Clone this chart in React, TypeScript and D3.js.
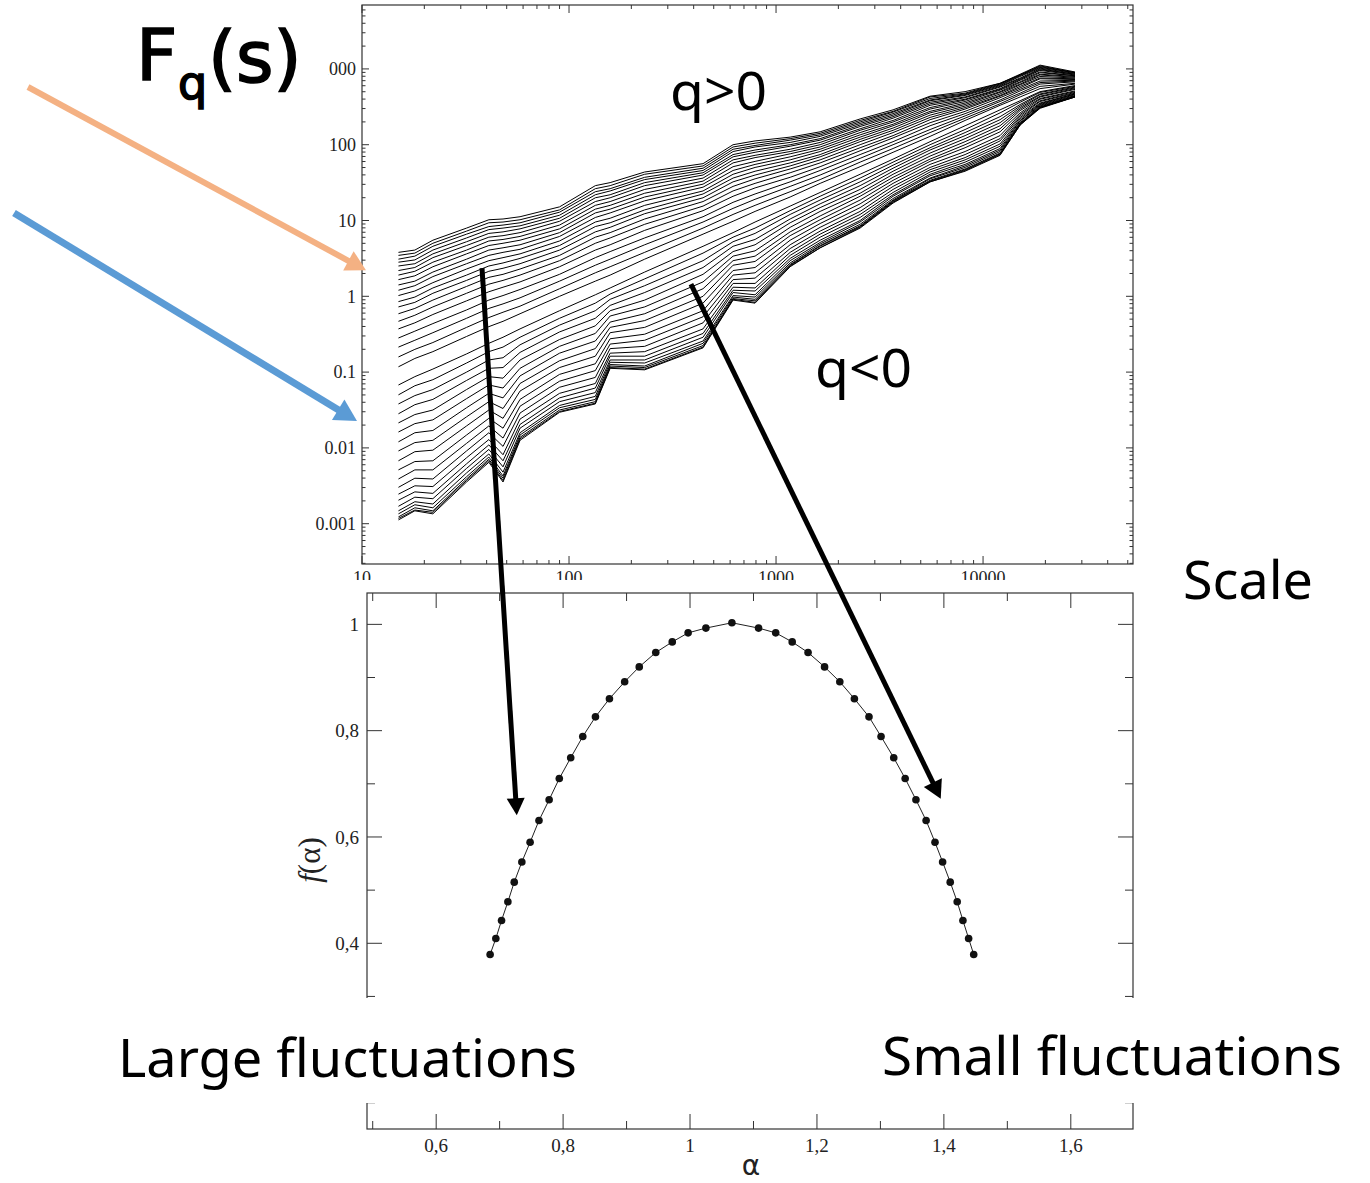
import React from 'react';
import * as d3 from 'd3';

// Window sizes s of the fluctuation function
const SCALES = [15, 18, 22, 32, 41, 48, 58, 90, 134, 158, 232, 444, 620, 792, 1170, 1633, 2547, 3675, 5546, 8187, 12080, 15100, 18850, 27800];

// log10 Fq(s) for q > 0: one row per scale, columns from the largest q down to the smallest
const LOG_FQ_POS_Q = [
  [0.58, 0.54, 0.49, 0.45, 0.40, 0.34, 0.28, 0.22, 0.15, 0.08, 0.01, -0.07, -0.14, -0.23, -0.33, -0.43, -0.55, -0.67, -0.80, -0.93],
  [0.61, 0.57, 0.53, 0.48, 0.43, 0.38, 0.33, 0.27, 0.20, 0.14, 0.07, -0.01, -0.08, -0.16, -0.25, -0.35, -0.46, -0.58, -0.70, -0.82],
  [0.74, 0.70, 0.66, 0.61, 0.56, 0.51, 0.45, 0.39, 0.32, 0.26, 0.18, 0.11, 0.04, -0.05, -0.14, -0.24, -0.36, -0.48, -0.61, -0.73],
  [0.90, 0.86, 0.82, 0.77, 0.72, 0.67, 0.61, 0.56, 0.49, 0.43, 0.36, 0.28, 0.21, 0.13, 0.04, -0.06, -0.18, -0.29, -0.41, -0.53],
  [1.01, 0.97, 0.92, 0.88, 0.83, 0.78, 0.73, 0.67, 0.61, 0.54, 0.47, 0.40, 0.33, 0.25, 0.16, 0.06, -0.05, -0.16, -0.28, -0.40],
  [1.02, 0.98, 0.94, 0.90, 0.85, 0.80, 0.75, 0.70, 0.64, 0.58, 0.51, 0.44, 0.37, 0.29, 0.21, 0.12, 0.01, -0.10, -0.21, -0.33],
  [1.05, 1.01, 0.97, 0.93, 0.89, 0.84, 0.79, 0.74, 0.68, 0.62, 0.56, 0.50, 0.43, 0.36, 0.28, 0.19, 0.09, -0.02, -0.13, -0.23],
  [1.18, 1.14, 1.11, 1.07, 1.03, 0.99, 0.94, 0.89, 0.84, 0.79, 0.73, 0.67, 0.61, 0.54, 0.47, 0.39, 0.29, 0.20, 0.10, 0.00],
  [1.46, 1.42, 1.38, 1.34, 1.30, 1.25, 1.20, 1.15, 1.10, 1.04, 0.98, 0.92, 0.85, 0.78, 0.70, 0.61, 0.51, 0.41, 0.31, 0.20],
  [1.50, 1.46, 1.42, 1.39, 1.34, 1.30, 1.25, 1.20, 1.15, 1.10, 1.03, 0.97, 0.91, 0.84, 0.77, 0.68, 0.59, 0.49, 0.39, 0.28],
  [1.64, 1.61, 1.57, 1.54, 1.50, 1.46, 1.41, 1.36, 1.31, 1.26, 1.20, 1.14, 1.09, 1.02, 0.95, 0.87, 0.77, 0.68, 0.58, 0.49],
  [1.75, 1.72, 1.69, 1.66, 1.63, 1.60, 1.56, 1.52, 1.48, 1.44, 1.39, 1.35, 1.30, 1.25, 1.19, 1.13, 1.05, 0.98, 0.90, 0.82],
  [2.00, 1.97, 1.94, 1.91, 1.87, 1.84, 1.80, 1.76, 1.71, 1.66, 1.61, 1.56, 1.51, 1.45, 1.39, 1.32, 1.24, 1.16, 1.08, 0.99],
  [2.05, 2.02, 1.99, 1.97, 1.93, 1.90, 1.86, 1.83, 1.78, 1.74, 1.70, 1.65, 1.60, 1.55, 1.49, 1.43, 1.35, 1.28, 1.20, 1.12],
  [2.10, 2.08, 2.06, 2.03, 2.00, 1.98, 1.94, 1.91, 1.88, 1.84, 1.80, 1.76, 1.72, 1.68, 1.63, 1.57, 1.51, 1.45, 1.38, 1.31],
  [2.17, 2.15, 2.13, 2.11, 2.08, 2.06, 2.03, 2.00, 1.97, 1.94, 1.91, 1.87, 1.84, 1.80, 1.76, 1.71, 1.66, 1.60, 1.54, 1.49],
  [2.34, 2.32, 2.30, 2.28, 2.26, 2.24, 2.21, 2.19, 2.16, 2.13, 2.10, 2.07, 2.04, 2.00, 1.96, 1.92, 1.87, 1.82, 1.77, 1.71],
  [2.46, 2.44, 2.43, 2.41, 2.39, 2.37, 2.35, 2.32, 2.30, 2.27, 2.25, 2.22, 2.19, 2.16, 2.12, 2.09, 2.04, 2.00, 1.95, 1.90],
  [2.64, 2.63, 2.61, 2.59, 2.58, 2.56, 2.54, 2.52, 2.49, 2.47, 2.44, 2.42, 2.39, 2.36, 2.33, 2.29, 2.25, 2.20, 2.16, 2.11],
  [2.70, 2.68, 2.67, 2.66, 2.65, 2.63, 2.62, 2.60, 2.59, 2.57, 2.55, 2.53, 2.51, 2.49, 2.47, 2.44, 2.41, 2.38, 2.35, 2.32],
  [2.81, 2.81, 2.80, 2.79, 2.78, 2.77, 2.76, 2.74, 2.73, 2.72, 2.70, 2.69, 2.67, 2.65, 2.64, 2.62, 2.59, 2.57, 2.54, 2.52],
  [2.93, 2.92, 2.92, 2.91, 2.90, 2.88, 2.87, 2.86, 2.85, 2.83, 2.82, 2.80, 2.79, 2.77, 2.75, 2.73, 2.71, 2.68, 2.66, 2.63],
  [3.05, 3.04, 3.03, 3.02, 3.01, 3.00, 2.99, 2.98, 2.96, 2.95, 2.93, 2.92, 2.90, 2.88, 2.87, 2.84, 2.82, 2.80, 2.77, 2.74],
  [2.96, 2.95, 2.95, 2.95, 2.94, 2.93, 2.93, 2.92, 2.91, 2.91, 2.90, 2.89, 2.88, 2.87, 2.86, 2.85, 2.84, 2.83, 2.81, 2.80],
];

// log10 Fq(s) for q < 0: one row per scale, columns from the q closest to 0 down to the most negative q
const LOG_FQ_NEG_Q = [
  [-1.17, -1.30, -1.42, -1.55, -1.67, -1.79, -1.92, -2.04, -2.17, -2.29, -2.41, -2.52, -2.61, -2.69, -2.77, -2.83, -2.87, -2.91, -2.93, -2.95],
  [-1.06, -1.18, -1.31, -1.43, -1.56, -1.68, -1.80, -1.93, -2.05, -2.18, -2.29, -2.40, -2.50, -2.58, -2.65, -2.71, -2.75, -2.79, -2.82, -2.83],
  [-0.96, -1.10, -1.23, -1.36, -1.50, -1.63, -1.77, -1.90, -2.03, -2.17, -2.29, -2.41, -2.51, -2.60, -2.67, -2.74, -2.79, -2.83, -2.85, -2.87],
  [-0.76, -0.88, -1.00, -1.11, -1.23, -1.35, -1.47, -1.59, -1.71, -1.83, -1.94, -2.04, -2.13, -2.21, -2.27, -2.33, -2.38, -2.41, -2.43, -2.45],
  [-0.62, -0.73, -0.84, -0.95, -1.06, -1.17, -1.28, -1.39, -1.50, -1.61, -1.71, -1.80, -1.89, -1.96, -2.02, -2.08, -2.12, -2.15, -2.17, -2.19],
  [-0.54, -0.67, -0.81, -0.94, -1.08, -1.21, -1.34, -1.48, -1.61, -1.74, -1.87, -1.98, -2.09, -2.17, -2.25, -2.32, -2.37, -2.40, -2.43, -2.45],
  [-0.43, -0.54, -0.64, -0.74, -0.84, -0.95, -1.05, -1.15, -1.25, -1.36, -1.45, -1.54, -1.62, -1.69, -1.74, -1.80, -1.83, -1.86, -1.88, -1.90],
  [-0.19, -0.29, -0.38, -0.47, -0.57, -0.66, -0.75, -0.85, -0.94, -1.03, -1.12, -1.20, -1.28, -1.34, -1.39, -1.44, -1.47, -1.50, -1.52, -1.53],
  [0.02, -0.09, -0.19, -0.29, -0.39, -0.49, -0.59, -0.69, -0.79, -0.89, -0.98, -1.07, -1.15, -1.21, -1.27, -1.32, -1.36, -1.39, -1.41, -1.42],
  [0.11, 0.03, -0.04, -0.12, -0.19, -0.26, -0.34, -0.41, -0.48, -0.56, -0.63, -0.69, -0.75, -0.79, -0.84, -0.87, -0.90, -0.92, -0.94, -0.95],
  [0.32, 0.23, 0.14, 0.05, -0.05, -0.14, -0.23, -0.32, -0.41, -0.50, -0.58, -0.66, -0.73, -0.79, -0.84, -0.88, -0.92, -0.94, -0.96, -0.97],
  [0.66, 0.57, 0.47, 0.38, 0.29, 0.19, 0.10, 0.00, -0.09, -0.19, -0.27, -0.35, -0.43, -0.49, -0.54, -0.59, -0.62, -0.65, -0.67, -0.68],
  [0.84, 0.78, 0.72, 0.66, 0.59, 0.53, 0.47, 0.41, 0.34, 0.28, 0.22, 0.17, 0.12, 0.08, 0.05, 0.01, -0.01, -0.03, -0.04, -0.05],
  [0.98, 0.90, 0.83, 0.75, 0.68, 0.60, 0.53, 0.46, 0.38, 0.31, 0.24, 0.17, 0.11, 0.07, 0.02, -0.01, -0.04, -0.06, -0.08, -0.09],
  [1.19, 1.13, 1.08, 1.02, 0.97, 0.91, 0.85, 0.80, 0.74, 0.68, 0.63, 0.58, 0.54, 0.50, 0.47, 0.44, 0.42, 0.41, 0.40, 0.39],
  [1.37, 1.32, 1.27, 1.22, 1.17, 1.12, 1.06, 1.01, 0.96, 0.91, 0.86, 0.82, 0.78, 0.74, 0.71, 0.69, 0.67, 0.66, 0.64, 0.64],
  [1.61, 1.56, 1.51, 1.46, 1.41, 1.36, 1.32, 1.27, 1.22, 1.17, 1.12, 1.08, 1.04, 1.00, 0.98, 0.95, 0.93, 0.92, 0.91, 0.90],
  [1.81, 1.77, 1.73, 1.69, 1.65, 1.61, 1.57, 1.53, 1.49, 1.45, 1.41, 1.37, 1.34, 1.32, 1.29, 1.27, 1.26, 1.25, 1.24, 1.23],
  [2.04, 2.00, 1.96, 1.93, 1.89, 1.85, 1.81, 1.78, 1.74, 1.70, 1.67, 1.64, 1.61, 1.59, 1.56, 1.55, 1.53, 1.52, 1.51, 1.51],
  [2.25, 2.20, 2.16, 2.12, 2.08, 2.04, 2.00, 1.96, 1.91, 1.87, 1.83, 1.80, 1.77, 1.74, 1.72, 1.70, 1.68, 1.67, 1.66, 1.65],
  [2.46, 2.42, 2.37, 2.33, 2.29, 2.25, 2.21, 2.17, 2.12, 2.08, 2.05, 2.01, 1.98, 1.95, 1.93, 1.91, 1.89, 1.88, 1.87, 1.86],
  [2.58, 2.56, 2.53, 2.51, 2.49, 2.47, 2.45, 2.42, 2.40, 2.38, 2.36, 2.34, 2.32, 2.31, 2.29, 2.28, 2.27, 2.27, 2.26, 2.26],
  [2.70, 2.69, 2.67, 2.66, 2.64, 2.63, 2.61, 2.60, 2.58, 2.57, 2.55, 2.54, 2.53, 2.52, 2.51, 2.50, 2.49, 2.49, 2.49, 2.48],
  [2.78, 2.77, 2.76, 2.75, 2.74, 2.73, 2.71, 2.70, 2.69, 2.68, 2.67, 2.67, 2.66, 2.65, 2.64, 2.64, 2.64, 2.63, 2.63, 2.63],
];

// Multifractal spectrum f(alpha)
const ALPHA = [0.685, 0.694, 0.703, 0.713, 0.723, 0.735, 0.748, 0.762, 0.778, 0.794, 0.812, 0.831, 0.851, 0.873, 0.897, 0.920, 0.946, 0.972, 0.997, 1.025, 1.066, 1.108, 1.135, 1.161, 1.186, 1.212, 1.236, 1.259, 1.282, 1.301, 1.321, 1.339, 1.356, 1.372, 1.386, 1.398, 1.410, 1.421, 1.430, 1.439, 1.447];
const F_ALPHA = [0.379, 0.409, 0.443, 0.478, 0.515, 0.553, 0.590, 0.631, 0.670, 0.710, 0.749, 0.789, 0.826, 0.860, 0.892, 0.920, 0.947, 0.967, 0.984, 0.993, 1.003, 0.993, 0.984, 0.967, 0.947, 0.920, 0.892, 0.860, 0.826, 0.789, 0.749, 0.710, 0.670, 0.631, 0.590, 0.553, 0.515, 0.478, 0.443, 0.409, 0.379];

const TOP_Y_TICKS = [0.001, 0.01, 0.1, 1, 10, 100, 1000];
const TOP_Y_LABELS = ['0.001', '0.01', '0.1', '1', '10', '100', '1000'];
const TOP_X_TICKS = [10, 100, 1000, 10000];
const TOP_X_LABELS = ['10', '100', '1000', '10000'];
const BOT_X_TICKS = [0.6, 0.8, 1, 1.2, 1.4, 1.6];
const BOT_X_MINOR = [0.5, 0.7, 0.9, 1.1, 1.3, 1.5];
const BOT_X_LABELS = ['0,6', '0,8', '1', '1,2', '1,4', '1,6'];
const BOT_Y_TICKS = [0.4, 0.6, 0.8, 1];
const BOT_Y_MINOR = [0.1, 0.3, 0.5, 0.7, 0.9];
const BOT_Y_LABELS = ['0,4', '0,6', '0,8', '1'];

const W = 1370;
const H = 1183;
const TOP = { left: 362, right: 1133, top: 5, bottom: 564 };
const BOT = { left: 367, right: 1133, top: 593, bottom: 1129 };

const AXIS = '#333';
const SERIF = "'Liberation Serif', 'Times New Roman', serif";
const SANS = "'Noto Sans', 'Open Sans', sans-serif";

function Arrow({ x1, y1, x2, y2, color, width, head, half }) {
  const dx = x2 - x1;
  const dy = y2 - y1;
  const len = Math.hypot(dx, dy);
  const ux = dx / len;
  const uy = dy / len;
  const bx = x2 - ux * head;
  const by = y2 - uy * head;
  const pts = [
    [x2, y2],
    [bx - uy * half, by + ux * half],
    [bx + uy * half, by - ux * half],
  ];
  return (
    <g>
      <line x1={x1} y1={y1} x2={bx + ux} y2={by + uy} stroke={color} strokeWidth={width} />
      <polygon points={pts.map((p) => p.join(',')).join(' ')} fill={color} />
    </g>
  );
}

export default function App() {
  const xTop = d3.scaleLog().domain([10, 53000]).range([TOP.left, TOP.right]);
  const yTop = d3.scaleLog().domain([0.000294, 6970]).range([TOP.bottom, TOP.top]);
  const xBot = d3.scaleLinear().domain([0.491, 1.698]).range([BOT.left, BOT.right]);
  const yBot = d3.scaleLinear().domain([0.0506, 1.059]).range([BOT.bottom, BOT.top]);

  const columns = [...d3.transpose(LOG_FQ_POS_Q), ...d3.transpose(LOG_FQ_NEG_Q)];
  const curves = columns.map((col) => col.map((v, i) => [SCALES[i], Math.pow(10, v)]));
  const fqLine = d3
    .line()
    .x((d) => xTop(d[0]))
    .y((d) => yTop(d[1]));

  const spectrum = ALPHA.map((a, i) => [a, F_ALPHA[i]]);
  const specLine = d3
    .line()
    .x((d) => xBot(d[0]))
    .y((d) => yBot(d[1]));

  const xMax = xTop.domain()[1];
  const [yMin, yMax] = yTop.domain();
  const xMinor = [];
  [10, 100, 1000, 10000].forEach((d) => {
    for (let k = 2; k <= 9; k++) if (d * k < xMax) xMinor.push(d * k);
  });
  const yMinor = [];
  [0.0001, 0.001, 0.01, 0.1, 1, 10, 100, 1000].forEach((d) => {
    for (let k = 2; k <= 9; k++) {
      const v = d * k;
      if (v > yMin && v < yMax) yMinor.push(v);
    }
  });

  const tick = (key, x1, y1, x2, y2) => <line key={key} x1={x1} y1={y1} x2={x2} y2={y2} stroke={AXIS} strokeWidth={1} />;

  // annotation arrows tied to chart coordinates
  const a1 = { x1: xTop(38), y1: yTop(2.36), x2: xBot(0.727), y2: yBot(0.641) };
  const a2 = { x1: xTop(388), y1: yTop(1.45), x2: xBot(1.395), y2: yBot(0.672) };

  return (
    <svg width={W} height={H} style={{ position: 'absolute', left: 0, top: 0, background: '#fff' }}>
      <rect x={0} y={0} width={W} height={H} fill="#fff" />

      {/* ---- Fq(s) panel ---- */}
      <g>
        {curves.map((c, i) => (
          <path key={'c' + i} d={fqLine(c)} fill="none" stroke="#000" strokeWidth={1} />
        ))}
        <rect x={TOP.left} y={TOP.top} width={TOP.right - TOP.left} height={TOP.bottom - TOP.top} fill="none" stroke={AXIS} strokeWidth={1.2} />
        {TOP_X_TICKS.map((v, i) => (
          <g key={'tx' + i}>
            {tick('a', xTop(v), TOP.bottom, xTop(v), TOP.bottom - 8)}
            {tick('b', xTop(v), TOP.top, xTop(v), TOP.top + 8)}
            <text x={xTop(v)} y={584} textAnchor="middle" fontFamily={SERIF} fontSize={18} fill="#222">
              {TOP_X_LABELS[i]}
            </text>
          </g>
        ))}
        {xMinor.map((v, i) => (
          <g key={'txm' + i}>
            {tick('a', xTop(v), TOP.bottom, xTop(v), TOP.bottom - 4)}
            {tick('b', xTop(v), TOP.top, xTop(v), TOP.top + 4)}
          </g>
        ))}
        {TOP_Y_TICKS.map((v, i) => (
          <g key={'ty' + i}>
            {tick('a', TOP.left, yTop(v), TOP.left + 7, yTop(v))}
            {tick('b', TOP.right, yTop(v), TOP.right - 7, yTop(v))}
            <text x={356} y={yTop(v)} dy="0.35em" textAnchor="end" fontFamily={SERIF} fontSize={18} fill="#222">
              {TOP_Y_LABELS[i]}
            </text>
          </g>
        ))}
        {yMinor.map((v, i) => (
          <g key={'tym' + i}>
            {tick('a', TOP.left, yTop(v), TOP.left + 3.5, yTop(v))}
            {tick('b', TOP.right, yTop(v), TOP.right - 3.5, yTop(v))}
          </g>
        ))}
      </g>

      {/* ---- f(alpha) panel ---- */}
      <rect x={0} y={580} width={W} height={H - 580} fill="#fff" />
      <g>
        <rect x={BOT.left} y={BOT.top} width={BOT.right - BOT.left} height={BOT.bottom - BOT.top} fill="none" stroke={AXIS} strokeWidth={1.2} />
        {BOT_X_TICKS.map((v, i) => (
          <g key={'bx' + i}>
            {tick('a', xBot(v), BOT.bottom, xBot(v), BOT.bottom - 15)}
            {tick('b', xBot(v), BOT.top, xBot(v), BOT.top + 15)}
            <text x={xBot(v)} y={1152} textAnchor="middle" fontFamily={SERIF} fontSize={19} fill="#222">
              {BOT_X_LABELS[i]}
            </text>
          </g>
        ))}
        {BOT_X_MINOR.map((v, i) => (
          <g key={'bxm' + i}>
            {tick('a', xBot(v), BOT.bottom, xBot(v), BOT.bottom - 8)}
            {tick('b', xBot(v), BOT.top, xBot(v), BOT.top + 8)}
          </g>
        ))}
        {BOT_Y_TICKS.map((v, i) => (
          <g key={'by' + i}>
            {tick('a', BOT.left, yBot(v), BOT.left + 15, yBot(v))}
            {tick('b', BOT.right, yBot(v), BOT.right - 15, yBot(v))}
            <text x={359} y={yBot(v)} dy="0.35em" textAnchor="end" fontFamily={SERIF} fontSize={19} fill="#222">
              {BOT_Y_LABELS[i]}
            </text>
          </g>
        ))}
        {BOT_Y_MINOR.map((v, i) => (
          <g key={'bym' + i}>
            {tick('a', BOT.left, yBot(v), BOT.left + 8, yBot(v))}
            {tick('b', BOT.right, yBot(v), BOT.right - 8, yBot(v))}
          </g>
        ))}
        <path d={specLine(spectrum)} fill="none" stroke="#222" strokeWidth={1} />
        {spectrum.map((d, i) => (
          <circle key={'p' + i} cx={xBot(d[0])} cy={yBot(d[1])} r={3.8} fill="#111" />
        ))}
        <text transform="translate(320,860) rotate(-90)" textAnchor="middle" fontFamily={SERIF} fontSize={31} fill="#222">
          <tspan fontStyle="italic">f</tspan>(α)
        </text>
        <text x={751} y={1175} textAnchor="middle" fontFamily="'DejaVu Sans', sans-serif" fontSize={28} fill="#222">
          α
        </text>
      </g>

      {/* caption band across the lower panel */}
      <rect x={0} y={998} width={W} height={105} fill="#fff" />
      <text x={118} y={1077} fontFamily={SANS} fontSize={53} fill="#000" textLength={459} lengthAdjust="spacingAndGlyphs">
        Large fluctuations
      </text>
      <text x={882} y={1075} fontFamily={SANS} fontSize={53} fill="#000" textLength={460} lengthAdjust="spacingAndGlyphs">
        Small fluctuations
      </text>
      <text x={1183} y={599} fontFamily={SANS} fontSize={53} fill="#000" textLength={130} lengthAdjust="spacingAndGlyphs">
        Scale
      </text>
      <text x={670} y={110} fontFamily={SANS} fontSize={53} fill="#000" textLength={97} lengthAdjust="spacingAndGlyphs">
        q&gt;0
      </text>
      <text x={815} y={387} fontFamily={SANS} fontSize={53} fill="#000" textLength={97} lengthAdjust="spacingAndGlyphs">
        q&lt;0
      </text>

      {/* title block */}
      <rect x={110} y={0} width={218} height={112} fill="#fff" />
      <text fontFamily="'Comic Sans MS', 'DejaVu Sans', sans-serif" fill="#000" stroke="#000" strokeWidth={1.6} fontSize={72}>
        <tspan x={136} y={80}>F</tspan>
        <tspan x={178} y={99} fontSize={46}>q</tspan>
        <tspan x={208} y={82}>(s)</tspan>
      </text>

      {/* annotation arrows */}
      <Arrow x1={28} y1={87} x2={xTop(10) + 4} y2={yTop(2.2)} color="#F4B183" width={6} head={20} half={11} />
      <Arrow x1={14} y1={213} x2={xTop(10) - 5} y2={yTop(0.0226)} color="#5B9BD5" width={7} head={22} half={12} />
      <Arrow {...a1} color="#000" width={5} head={17} half={9} />
      <Arrow {...a2} color="#000" width={5} head={18} half={10} />
    </svg>
  );
}
